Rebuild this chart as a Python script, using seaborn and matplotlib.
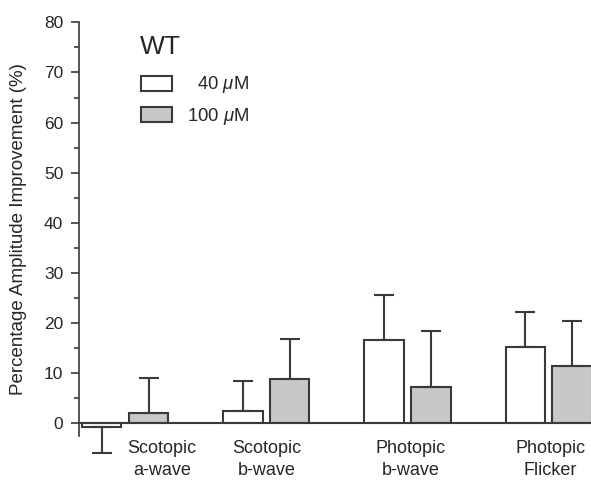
import numpy as np
import pandas as pd
import seaborn as sns
import matplotlib.pyplot as plt
from matplotlib.patches import Patch
from matplotlib.ticker import MultipleLocator

# values (percent improvement, mean and SD)
groups = ['Scotopic\na-wave', 'Scotopic\nb-wave', 'Photopic\nb-wave', 'Photopic\nFlicker']
doses = ['40 $\\mu$M', '100 $\\mu$M']
mean_40 = [-0.8, 2.5, 16.6, 15.2]
mean_100 = [2.1, 8.8, 7.3, 11.4]
sd_40 = [5.1, 5.9, 9.0, 7.0]
sd_100 = [7.0, 8.0, 11.1, 9.0]

df = pd.DataFrame({
    'group': groups * 2,
    'dose': [doses[0]] * 4 + [doses[1]] * 4,
    'mean': mean_40 + mean_100,
    'sd': sd_40 + sd_100,
})

sns.set_style('ticks')
plt.rcParams['font.family'] = ['Liberation Sans', 'DejaVu Sans']
plt.rcParams['mathtext.fontset'] = 'custom'
plt.rcParams['mathtext.rm'] = 'Liberation Sans'
plt.rcParams['mathtext.it'] = 'Liberation Sans:italic'

edge = '#3a3a3a'
fig = plt.figure(figsize=(5.91, 4.80), dpi=100)
ax = fig.add_axes([0.133, 0.092, 0.867, 0.8615])

sns.barplot(data=df, x='group', y='mean', hue='dose', order=groups, hue_order=doses,
            palette=['white', '#c8c8c8'], width=0.664, gap=0.16, errorbar=None,
            edgecolor=edge, linewidth=1.5, legend=False, ax=ax)

# one-sided error bars in the direction of the bar
bars = sorted(ax.patches, key=lambda p: p.get_x())
rows = df.assign(g=df['group'].map(groups.index), d=df['dose'].map(doses.index)).sort_values(['g', 'd'])
for bar, (_, r) in zip(bars, rows.iterrows()):
    xc = bar.get_x() + bar.get_width() / 2
    if r['mean'] >= 0:
        yerr = [[0], [r['sd']]]
    else:
        yerr = [[r['sd']], [0]]
    ax.errorbar(xc, r['mean'], yerr=yerr, fmt='none', ecolor=edge, elinewidth=1.5,
                capsize=7, capthick=1.5, clip_on=False, zorder=3)

ax.axhline(0, color=edge, lw=1.5, zorder=4)
ax.set_ylim(-2.5, 80)
ax.set_xlim(-0.33, 3.3)
ax.yaxis.set_major_locator(MultipleLocator(10))
ax.yaxis.set_minor_locator(MultipleLocator(5))
ax.tick_params(axis='y', which='major', length=6, width=1.2, color=edge, labelsize=12.5, pad=5)
ax.tick_params(axis='y', which='minor', length=3.5, width=1.2, color=edge)
ax.set_xticks([])
ax.set_xlabel('')
ax.set_ylabel('Percentage Amplitude Improvement (%)', fontsize=13.5, labelpad=12)
for s in ['top', 'right', 'bottom']:
    ax.spines[s].set_visible(False)
ax.spines['left'].set_color(edge)
ax.spines['left'].set_linewidth(1.2)

# category labels under the zero line (first one nudged right of the negative bar)
label_shift = [0.26, 0.0, 0.02, 0.01]
for i, (name, dx) in enumerate(zip(groups, label_shift)):
    ax.text(i + dx, -3.3, name, ha='center', va='top', fontsize=13, linespacing=1.4)

ax.text(0.12, 0.94, 'WT', transform=ax.transAxes, ha='left', va='center', fontsize=19)
handles = [Patch(facecolor='white', edgecolor=edge, lw=1.5),
           Patch(facecolor='#c8c8c8', edgecolor=edge, lw=1.5)]
leg = ax.legend(handles, ['  40 $\\mu$M', '100 $\\mu$M'], frameon=False,
                loc='upper left', bbox_to_anchor=(0.1216, 0.874), fontsize=13.3,
                borderaxespad=0, borderpad=0, handlelength=1.68, handleheight=0.87,
                labelspacing=0.55, handletextpad=0.8)

fig.savefig('out.png', dpi=100)
